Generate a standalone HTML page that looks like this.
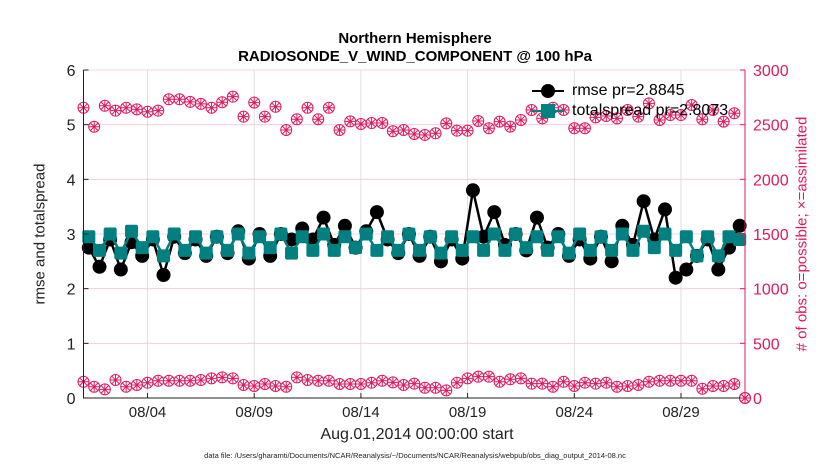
<!DOCTYPE html>
<html><head><meta charset="utf-8"><style>
body{margin:0;background:#fff;}
svg{display:block;font-family:"Liberation Sans",sans-serif;}
</style></head><body>
<svg id="chart" width="830" height="470"></svg>
<script>
const startDay = 1; // Aug 01 00Z
const tickDays = [4,9,14,19,24,29];
const tickLabels = ["08/04","08/09","08/14","08/19","08/24","08/29"];
const leftTicks = [0,1,2,3,4,5,6];
const rightTicks = [0,500,1000,1500,2000,2500,3000];
const possible = [2655,2481,2673,2628,2655,2640,2618,2628,2732,2732,2708,2690,2655,2705,2756,2573,2702,2573,2664,2451,2550,2655,2550,2655,2451,2530,2506,2515,2515,2440,2451,
 2415,2406,2421,2512,2445,2445,2534,2467,2528,2482,2543,2634,2558,2655,2634,2467,2467,2567,2579,2558,2634,2573,2695,2543,2588,2588,2680,2549,2634,2528,2604,0];
const assimilated = [149,103,79,165,103,119,140,158,158,158,158,165,180,189,180,119,110,128,110,103,189,165,158,158,128,128,128,140,158,143,119,
 131,94,94,70,140,180,195,195,149,171,180,131,131,103,149,110,140,131,140,103,110,119,149,158,158,158,158,85,110,110,128,0];
const rmse = [2.75,2.4,2.9,2.35,2.85,2.6,2.9,2.25,2.95,2.65,2.9,2.6,2.95,2.65,3.05,2.55,3.0,2.6,3.0,2.9,3.1,2.9,3.3,2.8,3.15,2.75,3.05,3.4,2.9,2.65,3.0,
 2.6,2.95,2.5,2.9,2.55,3.8,2.95,3.4,2.8,3.0,2.7,3.3,2.75,3.0,2.6,2.9,2.55,2.95,2.5,3.15,2.8,3.6,2.9,3.45,2.2,2.35,2.6,2.9,2.35,2.75,3.15];
const spread = [2.95,2.7,3.0,2.65,3.05,2.75,2.95,2.6,3.0,2.7,2.95,2.65,2.95,2.7,3.0,2.65,2.95,2.75,3.0,2.65,2.95,2.7,3.0,2.7,2.95,2.75,3.0,2.7,2.95,2.7,3.0,
 2.7,2.95,2.65,2.95,2.7,2.95,2.7,3.0,2.7,3.0,2.75,2.95,2.7,2.95,2.65,3.0,2.7,2.95,2.7,3.0,2.7,3.05,2.75,3.0,2.7,2.95,2.6,2.95,2.6,2.95,2.9];

const NS="http://www.w3.org/2000/svg";
const svg=document.getElementById('chart');
const L=83.5,R=745,T=70,B=398;
const xs=d=>L+(d)*(R-L)/31;
const yl=v=>B-v*(B-T)/6;
const yr=v=>B-v*(B-T)/3000;
const pink="#e0195f";
function el(t,a,p){const e=document.createElementNS(NS,t);for(const k in a)e.setAttribute(k,a[k]);(p||svg).appendChild(e);return e;}

leftTicks.forEach(v=>{const g=el('line',{x1:L,x2:R,y1:yl(v),y2:yl(v),stroke:'#f2c6d6','stroke-width':0.8});

});
tickDays.forEach(d=>{const g=el('line',{x1:xs(d-startDay),x2:xs(d-startDay),y1:T,y2:B,stroke:'#d8d8d8','stroke-width':0.8});

});

function obsMarker(x,y,g){
 el('circle',{cx:x,cy:y,r:5.5,fill:'none',stroke:pink,'stroke-width':1},g);
 el('path',{d:`M${x-5.5} ${y}H${x+5.5}M${x} ${y-5.5}V${y+5.5}M${x-3.9} ${y-3.9}L${x+3.9} ${y+3.9}M${x-3.9} ${y+3.9}L${x+3.9} ${y-3.9}`,stroke:pink,'stroke-width':1},g);
}
const gp=el('g',{});
possible.forEach((v,i)=>obsMarker(xs(i*0.5),yr(v),gp));
const ga=el('g',{});
assimilated.forEach((v,i)=>obsMarker(xs(i*0.5),yr(v),ga));

const gr=el('g',{});
el('polyline',{points:rmse.map((v,i)=>xs(i*0.5+0.25)+','+yl(v)).join(' '),fill:'none',stroke:'#000','stroke-width':2.5},gr);
rmse.forEach((v,i)=>el('circle',{cx:xs(i*0.5+0.25),cy:yl(v),r:7,fill:'#000'},gr));
const gs=el('g',{});
el('polyline',{points:spread.map((v,i)=>xs(i*0.5+0.25)+','+yl(v)).join(' '),fill:'none',stroke:'#008080','stroke-width':2.5},gs);
spread.forEach((v,i)=>el('rect',{x:xs(i*0.5+0.25)-6.5,y:yl(v)-6.5,width:13,height:13,rx:2,fill:'#008080'},gs));

el('path',{d:`M${L} ${T}V${B}H${R}`,stroke:'#222','stroke-width':1,fill:'none'});
el('line',{x1:R,x2:R,y1:T,y2:B,stroke:pink,'stroke-width':1});
leftTicks.forEach(v=>{el('line',{x1:L,x2:L+5,y1:yl(v),y2:yl(v),stroke:'#222'});
const t=el('text',{x:L-8,y:yl(v)+6,'text-anchor':'end','font-size':16,fill:'#222'});t.textContent=v;

});
rightTicks.forEach(v=>{el('line',{x1:R-5,x2:R,y1:yr(v),y2:yr(v),stroke:pink});
const t=el('text',{x:R+8,y:yr(v)+6,'font-size':16,fill:pink});t.textContent=v;

});
tickDays.forEach((d,i)=>{el('line',{x1:xs(d-startDay),x2:xs(d-startDay),y1:B,y2:B-5,stroke:'#222'});
const t=el('text',{x:xs(d-startDay),y:417,'text-anchor':'middle','font-size':15,fill:'#222'});t.textContent=tickLabels[i];

});
</script>
<div style="position:absolute;left:0;top:0;width:830px;height:470px;pointer-events:none;font-family:'Liberation Sans',sans-serif;">
<div style="position:absolute;left:0;width:830px;top:30px;text-align:center;font-weight:bold;font-size:15px;line-height:18px;color:#000;">Northern Hemisphere<br>RADIOSONDE_V_WIND_COMPONENT @ 100 hPa</div>
<div style="position:absolute;left:40px;top:234px;transform:translate(-50%,-50%) rotate(-90deg);font-size:15px;white-space:nowrap;color:#222;">rmse and totalspread</div>
<div style="position:absolute;left:802px;top:234px;transform:translate(-50%,-50%) rotate(-90deg);font-size:15px;white-space:nowrap;color:#e0195f;"># of obs: o=possible; &#215;=assimilated</div>
<div style="position:absolute;left:0;width:830px;top:426px;text-align:center;font-size:16px;color:#222;transform:translateX(2px);">Aug.01,2014 00:00:00 start</div>
<div style="position:absolute;left:0;width:830px;top:451px;text-align:center;font-size:7.5px;color:#222;">data file: /Users/gharamti/Documents/NCAR/Reanalysis/~/Documents/NCAR/Reanalysis/webpub/obs_diag_output_2014-08.nc</div>
<div style="position:absolute;left:530px;top:81px;font-size:16px;color:#000;line-height:20px;">
 <div style="position:relative;height:20px;"><span style="position:absolute;left:2px;top:9px;width:32px;height:2px;background:#000"></span><span style="position:absolute;left:11px;top:3px;width:14px;height:14px;border-radius:50%;background:#000"></span><span style="position:absolute;left:42px;top:0;white-space:nowrap">rmse pr=2.8845</span></div>
 <div style="position:relative;height:20px;"><span style="position:absolute;left:2px;top:9px;width:32px;height:2px;background:#008080"></span><span style="position:absolute;left:11px;top:3px;width:14px;height:14px;background:#008080"></span><span style="position:absolute;left:42px;top:0;white-space:nowrap">totalspread pr=2.8073</span></div>
</div>
</div>
</body></html>
